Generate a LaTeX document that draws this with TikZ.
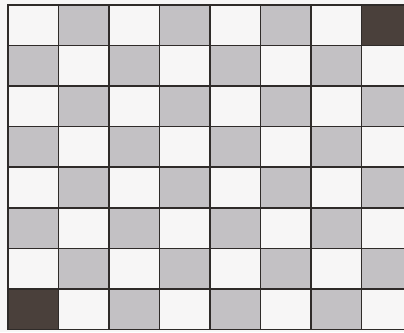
\documentclass[tikz,border=0pt]{standalone}
\usepackage{xcolor}
\usepackage{tikz}

\definecolor{boardgray}{HTML}{C3C1C4}
\definecolor{boarddark}{HTML}{4A403B}
\definecolor{gridline}{HTML}{2F2B29}
\definecolor{paper}{HTML}{F7F6F6}

\tikzset{
    lightcell/.style={fill=boardgray},
    darkcell/.style={fill=boarddark},
    gridrule/.style={draw=gridline, line width=1.6pt, line cap=rect}
}

\begin{document}
\begin{tikzpicture}[x=1pt, y=-1pt]
    \useasboundingbox (0,0) rectangle (404,332);
    \clip (0,0) rectangle (404,332);
    \fill[paper] (0,0) rectangle (404,332);

    % --- Shaded squares ---
    \foreach \r in {0,...,7} {
        \foreach \c in {0,...,7} {
            \pgfmathtruncatemacro{\odd}{mod(\r+\c,2)}
            \ifnum\odd=1
                \path[lightcell] (8+50.5*\c,5+40.56*\r) rectangle ++(50.5,40.56);
            \fi
        }
    }

    % --- Dark corners ---
    \path[darkcell] (8+50.5*7,5) rectangle ++(50.5,40.56);
    \path[darkcell] (8,5+40.56*7) rectangle ++(50.5,40.56);

    % --- Grid ---
    \foreach \c in {0,...,8} {
        \draw[gridrule] (8+50.5*\c,5) -- (8+50.5*\c,329.5);
    }
    \foreach \r in {0,...,8} {
        \draw[gridrule] (8,5+40.56*\r) -- (412,5+40.56*\r);
    }
\end{tikzpicture}
\end{document}
